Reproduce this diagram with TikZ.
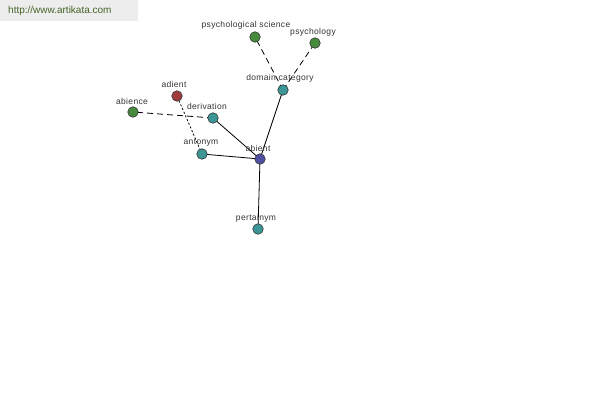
\documentclass[tikz,border=0pt]{standalone}
\usepackage{fontspec}
\setmainfont{Liberation Sans}
\newfontfamily\lblfont[LetterSpace=4]{Liberation Sans}
\begin{document}
\begin{tikzpicture}[x=1pt,y=-1pt,
  vtx/.style={circle,draw=black!80,line width=0.6pt,minimum size=10.5pt,inner sep=0pt},
  green/.style={vtx,fill={rgb,255:red,70;green,140;blue,60}},
  teal/.style={vtx,fill={rgb,255:red,60;green,150;blue,150}},
  redv/.style={vtx,fill={rgb,255:red,160;green,60;blue,60}},
  bluev/.style={vtx,fill={rgb,255:red,80;green,80;blue,160}},
  lbl/.style={font=\lblfont\fontsize{8.5}{9}\selectfont,text=black!80,inner sep=0pt},
  solidedge/.style={line width=0.8pt},
  dashedge/.style={line width=0.8pt,dash pattern=on 6pt off 4pt},
  dotedge/.style={line width=0.8pt,dash pattern=on 2pt off 2pt}]
\useasboundingbox (0,0) rectangle (600,400);
\fill[white] (0,0) rectangle (600,400);
\fill[black!7] (0,0) rectangle (138,21);
\node[anchor=west,font=\fontsize{10}{11}\selectfont,text={rgb,255:red,70;green,100;blue,40},inner sep=0pt] (wm) at (8,11) {http://www.artikata.com};

\coordinate (pabient) at (260,159);
\coordinate (pdomain) at (283,90);
\coordinate (ppsysci) at (255,37);
\coordinate (ppsy) at (315,43);
\coordinate (pderiv) at (213,118);
\coordinate (panto) at (202,154);
\coordinate (padient) at (177,96);
\coordinate (pabience) at (133,112);
\coordinate (ppert) at (258,229);

\draw[solidedge] (pabient) -- (pdomain);
\draw[solidedge] (pabient) -- (pderiv);
\draw[solidedge] (pabient) -- (panto);
\draw[solidedge] (pabient) -- (ppert);
\draw[dashedge] (pdomain) -- (ppsysci);
\draw[dashedge] (pdomain) -- (ppsy);
\draw[dashedge] (pderiv) -- (pabience);
\draw[dotedge] (panto) -- (padient);

\node[bluev] (abient) at (pabient) {};
\node[teal] (domain) at (pdomain) {};
\node[green] (psysci) at (ppsysci) {};
\node[green] (psy) at (ppsy) {};
\node[teal] (deriv) at (pderiv) {};
\node[teal] (anto) at (panto) {};
\node[redv] (adient) at (padient) {};
\node[green] (abience) at (pabience) {};
\node[teal] (pert) at (ppert) {};

\node[lbl] (labient) at (258,148) {abient};
\node[lbl] (ldomain) at (280,78) {domain category};
\node[lbl] (lpsysci) at (246,25) {psychological science};
\node[lbl] (lpsy) at (313,32) {psychology};
\node[lbl] (lderiv) at (207,106) {derivation};
\node[lbl] (lanto) at (201,143) {antonym};
\node[lbl] (ladient) at (174,84) {adient};
\node[lbl] (labience) at (132,101) {abience};
\node[lbl] (lpert) at (256,218) {pertainym};
\end{tikzpicture}
\end{document}
